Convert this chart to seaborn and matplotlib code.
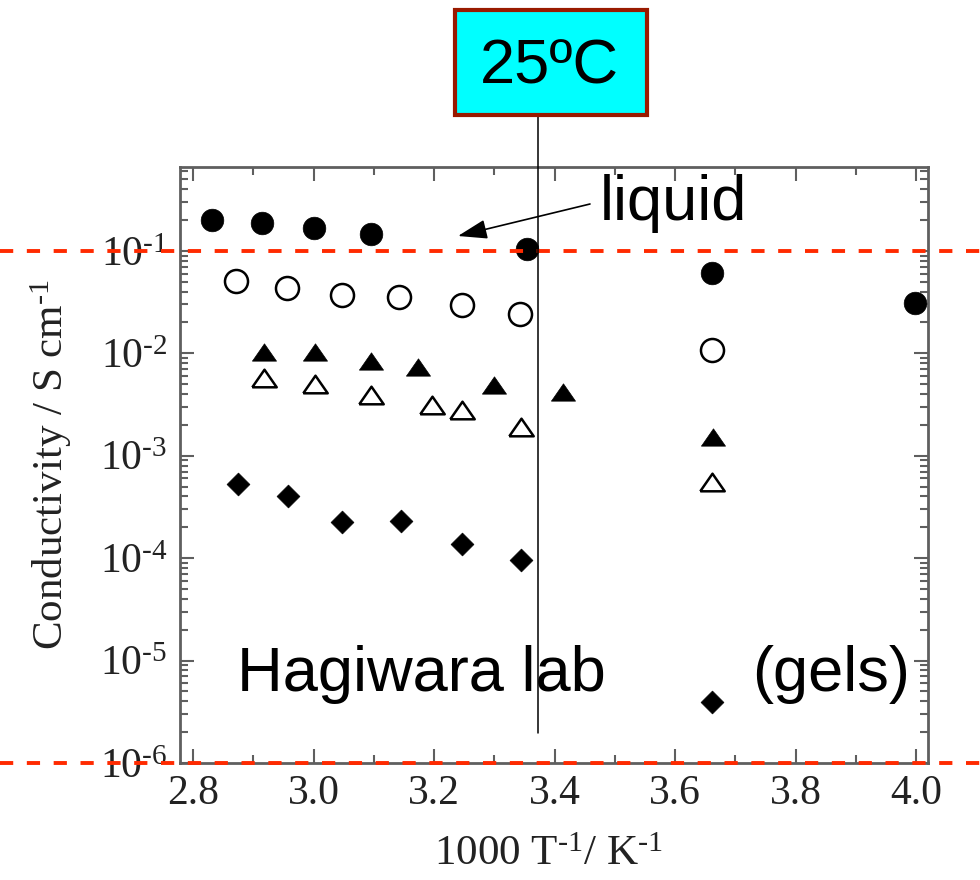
import numpy as np
import pandas as pd
import matplotlib
matplotlib.use("Agg")
import matplotlib.pyplot as plt
import seaborn as sns
from matplotlib.ticker import MultipleLocator, LogLocator, FuncFormatter, NullFormatter
from matplotlib.transforms import blended_transform_factory
from matplotlib.patches import Rectangle
from matplotlib.markers import MarkerStyle

# ---------------- data ----------------
x_fill_circle = [2.831, 2.914, 3.000, 3.095, 3.354, 3.661, 3.998]
y_fill_circle = [0.198, 0.187, 0.167, 0.147, 0.104, 0.0614, 0.0313]

x_open_circle = [2.871, 2.956, 3.047, 3.142, 3.246, 3.342, 3.661]
y_open_circle = [0.0512, 0.0433, 0.0371, 0.0353, 0.0297, 0.0243, 0.0108]

x_fill_tri = [2.917, 3.002, 3.095, 3.174, 3.300, 3.414, 3.663]
y_fill_tri = [0.0104, 0.0104, 0.00843, 0.00741, 0.00491, 0.00423, 0.00154]

x_open_tri = [2.917, 3.002, 3.095, 3.196, 3.246, 3.344, 3.662]
y_open_tri = [0.00571, 0.00502, 0.00392, 0.00313, 0.00280, 0.00192, 0.000558]

x_diamond = [2.874, 2.958, 3.048, 3.145, 3.247, 3.344, 3.661]
y_diamond = [5.27e-4, 4.05e-4, 2.27e-4, 2.31e-4, 1.37e-4, 9.6e-5, 3.97e-6]

x_25C = 3.373            # 25 ºC marker line
red_levels = [1e-1, 1e-6]  # dashed guide lines

xticks = [2.8, 3.0, 3.2, 3.4, 3.6, 3.8, 4.0]
xtick_labels = ["2.8", "3.0", "3.2", "3.4", "3.6", "3.8", "4.0"]

# ---------------- style ----------------
sns.set_style("ticks")
plt.rcParams["font.family"] = ["Liberation Serif", "DejaVu Serif"]
plt.rcParams["mathtext.fontset"] = "custom"
plt.rcParams["mathtext.rm"] = "Liberation Serif"
plt.rcParams["mathtext.it"] = "Liberation Serif:italic"
plt.rcParams["mathtext.default"] = "regular"

fig = plt.figure(figsize=(9.8, 8.8), dpi=100)
fig.patch.set_facecolor("white")
ax = fig.add_axes([0.1837, 0.1330, 0.7633, 0.6773])
ax.set_facecolor("white")

tri = MarkerStyle([(-1.0, -0.72), (1.0, -0.72), (0.0, 0.72), (-1.0, -0.72)])

sns.scatterplot(x=x_fill_circle, y=y_fill_circle, ax=ax, marker="o", s=265,
                color="black", edgecolor="black", linewidth=0.5, zorder=3)
sns.scatterplot(x=x_open_circle, y=y_open_circle, ax=ax, marker="o", s=275,
                color="white", edgecolor="black", linewidth=1.8, zorder=3)
sns.scatterplot(x=x_fill_tri, y=y_fill_tri, ax=ax, marker=tri, s=300,
                color="black", edgecolor="black", linewidth=0.5, zorder=3)
sns.scatterplot(x=x_open_tri, y=y_open_tri, ax=ax, marker=tri, s=310,
                color="white", edgecolor="black", linewidth=1.8, zorder=3)
sns.scatterplot(x=x_diamond, y=y_diamond, ax=ax, marker="D", s=135,
                color="black", edgecolor="black", linewidth=0.5, zorder=3)

ax.set_yscale("log")
ax.set_xlim(2.7784, 4.0199)
ax.set_ylim(1e-6, 0.66)

HY = "\u2010"  # hyphen-like minus as in the original

# ticks
ax.set_xticks(xticks)
ax.set_xticklabels(xtick_labels)
ax.xaxis.set_minor_locator(MultipleLocator(0.1))
ax.yaxis.set_major_locator(LogLocator(base=10, numticks=20))
ax.yaxis.set_minor_locator(LogLocator(base=10, subs=np.arange(2, 10), numticks=100))
ax.yaxis.set_major_formatter(FuncFormatter(
    lambda v, p: r"$10^{%s%d}$" % (HY, abs(int(round(np.log10(v)))))))
ax.yaxis.set_minor_formatter(NullFormatter())

spine_col = "#5f5f5f"
for s in ax.spines.values():
    s.set_color(spine_col)
    s.set_linewidth(2.0)
ax.tick_params(which="both", direction="in", top=True, right=True,
               color=spine_col, width=1.5, labelcolor="#222222", labelsize=30)
ax.tick_params(which="major", length=10)
ax.tick_params(which="minor", length=5.5)
ax.tick_params(axis="y", which="major", pad=9)
ax.tick_params(axis="x", which="major", pad=8)

ax.set_xlabel(r"1000 T$^{%s1}$/ K$^{%s1}$" % (HY, HY), fontsize=31, color="#222222")
ax.set_ylabel(r"Conductivity / S cm$^{%s1}$" % HY, fontsize=31, color="#222222")
ax.xaxis.set_label_coords(0.492, -0.122)
ax.yaxis.set_label_coords(-0.142, 0.5)

# red dashed guide lines across the whole figure
trx = blended_transform_factory(fig.transFigure, ax.transData)
for lvl in red_levels:
    ax.plot([0, 1], [lvl, lvl], transform=trx, color="#ff2a00", lw=2.8,
            dashes=(3.4, 3.5), clip_on=False, zorder=5)

# 25 ºC vertical line
try_ = blended_transform_factory(ax.transData, fig.transFigure)
ax.plot([x_25C, x_25C], [1 - 733 / 880, 1 - 115 / 880], transform=try_,
        color="black", lw=1.1, clip_on=False, zorder=6)

# 25 ºC box
box = Rectangle((455 / 980, 1 - 115 / 880), 192 / 980, 105 / 880,
                transform=fig.transFigure, facecolor="#00ffff",
                edgecolor="#991a00", linewidth=3.0, zorder=10)
fig.patches.append(box)
sans = ["Liberation Sans", "DejaVu Sans"]
fig.text(549 / 980, 1 - 83 / 880, "25ºC", ha="center", va="baseline",
         fontsize=45.5, family=sans, color="black", zorder=11)

# annotations
fig.text(600 / 980, 1 - 220 / 880, "liquid", ha="left", va="baseline",
         fontsize=45.5, family=sans, color="black")
fig.text(237 / 980, 1 - 691 / 880, "Hagiwara lab", ha="left", va="baseline",
         fontsize=45.5, family=sans, color="black")
fig.text(752 / 980, 1 - 691 / 880, "(gels)", ha="left", va="baseline",
         fontsize=45.5, family=sans, color="black")

ax.annotate("", xy=(458 / 980, 1 - 236 / 880), xycoords="figure fraction",
            xytext=(590 / 980, 1 - 204 / 880), textcoords="figure fraction",
            arrowprops=dict(arrowstyle="-|>,head_length=0.9,head_width=0.3",
                            mutation_scale=20, color="black", lw=1.2,
                            shrinkA=0, shrinkB=0))

fig.savefig("out.png", dpi=100)
